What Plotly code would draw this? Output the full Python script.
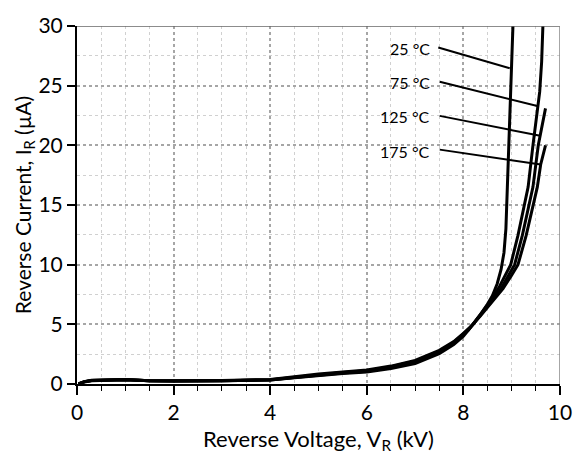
import plotly.graph_objects as go

# Common low-voltage portion (all temperatures nearly coincide)
v_common = [0.03, 0.15, 0.3, 0.5, 0.8, 1.0, 1.5, 2.0, 3.0, 4.0, 4.5, 5.0, 5.5, 6.0, 6.5, 7.0, 7.5, 7.8, 8.0, 8.1, 8.2, 8.35, 8.5]

v_25 = v_common + [8.6, 8.7, 8.78, 8.84, 8.88, 8.91, 8.94, 8.97, 9.03]
i_25 = [0.0, 0.2, 0.32, 0.34, 0.4, 0.38, 0.28, 0.25, 0.27, 0.33, 0.52, 0.72, 0.87, 1.0, 1.3, 1.72, 2.55, 3.3, 4.0, 4.5, 5.0, 5.8, 6.7,
        7.4, 8.4, 9.6, 11.0, 13.0, 16.5, 20.0, 25.0, 30.5]

v_75 = v_common + [8.62, 8.75, 8.88, 8.98, 9.13, 9.34, 9.44, 9.53, 9.58, 9.62, 9.65]
i_75 = [0.0, 0.2, 0.3, 0.33, 0.4, 0.37, 0.28, 0.25, 0.27, 0.34, 0.55, 0.76, 0.92, 1.07, 1.38, 1.83, 2.68, 3.4, 4.1, 4.5, 5.0, 5.8, 6.6,
        7.3, 8.2, 9.2, 10.0, 12.45, 16.5, 20.0, 23.2, 24.5, 27.0, 30.5]

v_125 = v_common + [8.64, 8.78, 8.92, 9.06, 9.22, 9.44, 9.55, 9.62, 9.70]
i_125 = [0.0, 0.18, 0.29, 0.32, 0.38, 0.36, 0.28, 0.26, 0.28, 0.36, 0.58, 0.8, 0.96, 1.12, 1.44, 1.9, 2.75, 3.5, 4.2, 4.55, 5.0, 5.75, 6.5,
         7.2, 8.0, 9.0, 10.0, 12.45, 16.5, 20.0, 21.5, 23.1]

v_175 = v_common + [8.66, 8.82, 8.98, 9.13, 9.30, 9.53, 9.60, 9.70]
i_175 = [0.0, 0.17, 0.28, 0.31, 0.37, 0.35, 0.28, 0.26, 0.29, 0.38, 0.6, 0.84, 1.0, 1.17, 1.5, 1.97, 2.82, 3.55, 4.25, 4.6, 5.0, 5.7, 6.45,
         7.2, 8.0, 9.0, 10.0, 12.45, 16.5, 18.4, 20.0]

labels = ["25 °C", "75 °C", "125 °C", "175 °C"]
label_v = [7.34, 7.34, 7.34, 7.34]
label_i = [28.1, 25.25, 22.4, 19.5]
leader_v0 = [7.48, 7.51, 7.51, 7.51]
leader_i0 = [28.2, 25.33, 22.47, 19.64]
leader_v1 = [8.96, 9.53, 9.59, 9.60]
leader_i1 = [26.46, 23.3, 20.8, 18.4]

FONT = "Lato"

fig = go.Figure()
for v, i in [(v_25, i_25), (v_75, i_75), (v_125, i_125), (v_175, i_175)]:
    fig.add_trace(go.Scatter(x=v, y=i, mode="lines", line=dict(color="black", width=3),
                             showlegend=False, hoverinfo="skip"))

for k in range(len(labels)):
    fig.add_trace(go.Scatter(x=[leader_v0[k], leader_v1[k]], y=[leader_i0[k], leader_i1[k]], mode="lines",
                             line=dict(color="black", width=2), showlegend=False, hoverinfo="skip"))
    fig.add_annotation(x=label_v[k], y=label_i[k], text=labels[k], showarrow=False, xanchor="right",
                       yanchor="middle", font=dict(family=FONT, size=16, color="black"))

# gray frame top and right
fig.add_shape(type="line", xref="x", yref="y", x0=0, x1=10, y0=30, y1=30, line=dict(color="#666666", width=1.5))
fig.add_shape(type="line", xref="x", yref="y", x0=10, x1=10, y0=0, y1=30, line=dict(color="#888888", width=1.5))

fig.update_xaxes(range=[0, 10], dtick=2, tick0=0, showline=True, linecolor="black", linewidth=2,
                 ticks="outside", ticklen=9, tickwidth=1.5, tickcolor="black",
                 showgrid=True, gridcolor="#a6a6a6", griddash="dot", gridwidth=1.5,
                 zeroline=False, ticklabeloverflow="allow",
                 minor=dict(dtick=0.5, ticks="outside", ticklen=5, tickcolor="black", tickwidth=1,
                            showgrid=True, gridcolor="#d0d0d0", griddash="dot", gridwidth=1),
                 tickfont=dict(family=FONT, size=21, color="black"),
                 title=dict(text="Reverse Voltage, V<sub>R</sub> (kV)", font=dict(family=FONT, size=22, color="black"),
                            standoff=8))
fig.update_yaxes(range=[0, 30], dtick=5, tick0=0, showline=True, linecolor="black", linewidth=2,
                 ticks="outside", ticklen=8, tickwidth=1.5, tickcolor="black",
                 showgrid=True, gridcolor="#a6a6a6", griddash="dot", gridwidth=1.5,
                 zeroline=False, ticklabeloverflow="allow",
                 minor=dict(dtick=2.5, ticks="", showgrid=True, gridcolor="#d0d0d0", griddash="dot", gridwidth=1),
                 tickfont=dict(family=FONT, size=21, color="black"),
                 title=dict(text="Reverse Current, I<sub>R</sub> (µA)", font=dict(family=FONT, size=21, color="black"),
                            standoff=0))

fig.update_layout(width=584, height=461, margin=dict(l=77, r=22, t=13, b=77),
                  plot_bgcolor="white", paper_bgcolor="white")

fig.write_html("out.html")
